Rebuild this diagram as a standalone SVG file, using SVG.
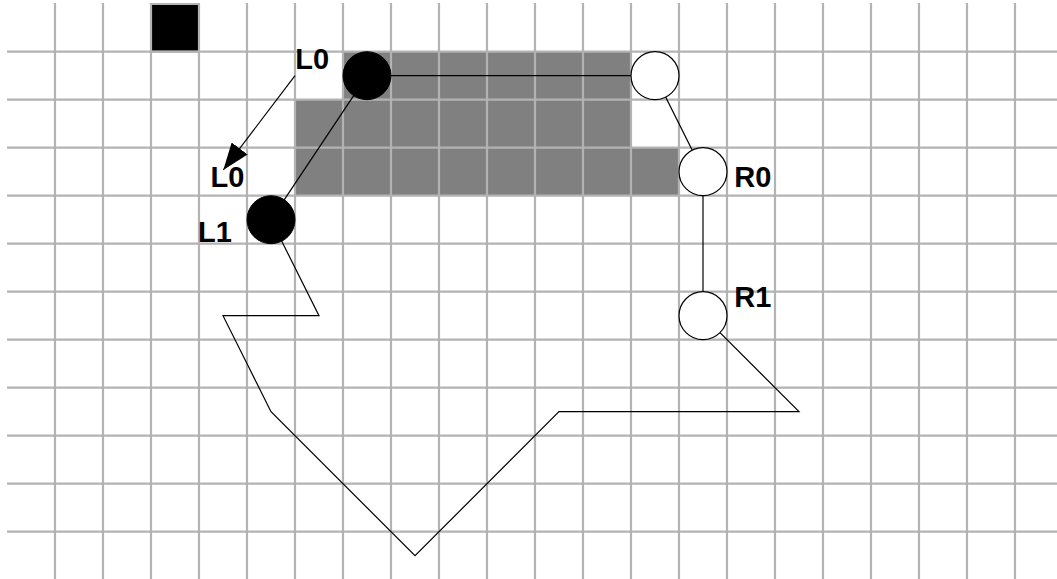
<svg xmlns="http://www.w3.org/2000/svg" width="1057" height="579" viewBox="0 0 1057 579">
<defs>
<style>
.g{stroke:#b3b3b3;stroke-width:2.2;fill:none}
.fill{fill:#808080}
.c{stroke:#000;stroke-width:1.2;fill:none}
.nb{fill:#000;stroke:#000;stroke-width:1}
.nw{fill:#fff;stroke:#000;stroke-width:1.2}
.lbl{font-family:"Liberation Sans",Arial,sans-serif;font-weight:bold;font-size:29px;fill:#000}
</style>
<marker id="ah" viewBox="0 -10 27 20" refX="27" refY="0" markerWidth="27" markerHeight="20" markerUnits="userSpaceOnUse" orient="auto">
<path d="M0,-10 L27,0 L0,10 z" fill="#000"/>
</marker>
</defs>
<rect width="1057" height="579" fill="#fff"/>
<g id="shaded">
<rect class="fill" x="343" y="51.7" width="288" height="48"/>
<rect class="fill" x="295" y="99.7" width="336" height="48"/>
<rect class="fill" x="295" y="147.7" width="384" height="48"/>
</g>
<rect id="blocksq" x="151" y="4" width="48" height="47.7" fill="#000" stroke="#b3b3b3" stroke-width="2"/>
<g id="grid" class="g">
<path d="M55,3V579M103,3V579M151,3V579M199,3V579M247,3V579M295,3V579M343,3V579M391,3V579M439,3V579M487,3V579M535,3V579M583,3V579M631,3V579M679,3V579M727,3V579M775,3V579M823,3V579M871,3V579M919,3V579M967,3V579M1015,3V579"/>
<path d="M7,51.7H1057M7,99.7H1057M7,147.7H1057M7,195.7H1057M7,243.7H1057M7,291.7H1057M7,339.7H1057M7,387.7H1057M7,435.7H1057M7,483.7H1057M7,531.7H1057"/>
</g>
<g id="connectors" class="c">
<path d="M367,75.7H655"/>
<path d="M655,75.7L703,171.7"/>
<path d="M703,171.7V315.7"/>
<path d="M367,75.7L271,219.7"/>
<path d="M271,219.7L319,315.7H223L271,411.7L415,555.7L559,411.7H799L703,315.7"/>
<path d="M295,75.7L223.3,170" marker-end="url(#ah)"/>
</g>
<g id="L0"><circle class="nb" cx="367" cy="75.7" r="24"/></g>
<g id="T0"><circle class="nw" cx="655" cy="75.7" r="24"/></g>
<g id="R0"><circle class="nw" cx="703" cy="171.7" r="24"/></g>
<g id="R1"><circle class="nw" cx="703" cy="315.7" r="24"/></g>
<g id="L1"><circle class="nb" cx="271" cy="219.7" r="24"/></g>
<g id="labels">
<text class="lbl" x="295.2" y="69.3">L0</text>
<text class="lbl" x="210.6" y="186.5">L0</text>
<text class="lbl" x="198" y="242.3">L1</text>
<text class="lbl" x="734.3" y="186.7">R0</text>
<text class="lbl" x="734.3" y="306.7">R1</text>
</g>
</svg>
